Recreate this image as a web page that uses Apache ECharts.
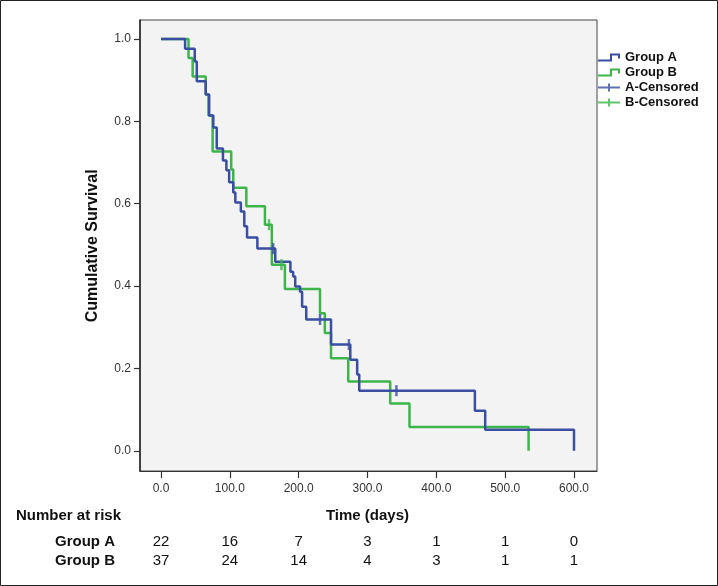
<!DOCTYPE html>
<html><head><meta charset="utf-8">
<script src="https://cdn.jsdelivr.net/npm/echarts@6/dist/echarts.min.js"></script>
<style>html,body{margin:0;padding:0;background:#fff}#c{width:718px;height:586px}</style>
</head><body><div id="c"></div>
<script>
// ---- data ----
const xTicks = [0, 100, 200, 300, 400, 500, 600];
const yTicks = [0, 0.2, 0.4, 0.6, 0.8, 1.0];

const groupATimes = [0,35,49,52,65,70,76,81,90,95,99,105,108,116,121,125,140,166,188,192,195,202,205,211,247,275,285,288,456,471,600];
const groupASurv  = [1,0.976,0.945,0.897,0.865,0.814,0.785,0.734,0.705,0.681,0.652,0.627,0.603,0.581,0.545,0.518,0.491,0.459,0.435,0.423,0.399,0.386,0.350,0.319,0.258,0.221,0.185,0.146,0.097,0.051,0];
const groupACensTimes = [163, 231, 273, 342];
const groupACensSurv  = [0.491, 0.319, 0.258, 0.146];

const groupBTimes = [0,40,46,65,69,75,102,105,124,151,161,180,231,238,247,272,333,361,534];
const groupBSurv  = [1,0.954,0.909,0.865,0.814,0.727,0.683,0.639,0.594,0.549,0.452,0.393,0.334,0.286,0.225,0.168,0.115,0.058,0];
const groupBCensTimes = [157, 175];
const groupBCensSurv  = [0.549, 0.452];

const seriesNames = ['Group A', 'Group B', 'A-Censored', 'B-Censored'];
const riskTimes = [0, 100, 200, 300, 400, 500, 600];
const riskGroups = ['Group A', 'Group B'];
const riskA = [22, 16, 7, 3, 1, 1, 0];
const riskB = [37, 24, 14, 4, 3, 1, 1];

// ---- chart ----
const BLUE = '#3a4ea3', GREEN = '#3db54a';
const zip = (a, b) => a.map((v, i) => [v, b[i]]);
const stepIcon = 'path://M0,6h12v-6h10v5h-2v-3h-6v6h-14z';
const plusIcon = 'path://M10,0h2v3h10v2h-10v3h-2v-3h-10v-2h10z';
const FONT = 'Arial, "Liberation Sans", sans-serif';

const chart = echarts.init(document.getElementById('c'), null, {renderer: 'canvas'});
chart.setOption({
  animation: false,
  backgroundColor: '#fff',
  grid: {left: 140, right: 121, top: 20, bottom: 115, show: true,
         backgroundColor: '#f3f3f3', borderColor: '#444', borderWidth: 1},
  xAxis: {
    type: 'value', min: -30.5, max: 633.4,
    splitLine: {show: false},
    axisLine: {show: true, onZero: false, lineStyle: {color: '#333', width: 1}},
    axisTick: {show: true, length: 7, lineStyle: {color: '#333', width: 1.2}, customValues: xTicks},
    axisLabel: {customValues: xTicks, margin: 12, fontSize: 12, color: '#333', fontFamily: FONT,
                formatter: v => v.toFixed(1)}
  },
  yAxis: {
    type: 'value', min: -0.049, max: 1.046,
    splitLine: {show: false},
    axisLine: {show: true, onZero: false, lineStyle: {color: '#222', width: 1.5}},
    axisTick: {show: true, length: 6, lineStyle: {color: '#333', width: 1.2}, customValues: yTicks},
    axisLabel: {customValues: yTicks, margin: 9, fontSize: 12, color: '#333', fontFamily: FONT,
                formatter: v => v.toFixed(1)}
  },
  legend: {
    orient: 'vertical', left: 598, top: 50, padding: 0, itemGap: 0,
    itemWidth: 22, itemHeight: 8,
    textStyle: {fontSize: 13, fontWeight: 'bold', color: '#111', fontFamily: FONT, lineHeight: 15},
    itemStyle: {borderWidth: 0},
    data: [
      {name: seriesNames[0], icon: stepIcon},
      {name: seriesNames[1], icon: stepIcon},
      {name: seriesNames[2], icon: plusIcon},
      {name: seriesNames[3], icon: plusIcon}
    ]
  },
  series: [
    {name: seriesNames[0], type: 'line', step: 'end', symbol: 'none', z: 3,
     color: BLUE, itemStyle: {color: BLUE}, lineStyle: {color: BLUE, width: 2.5},
     data: zip(groupATimes, groupASurv)},
    {name: seriesNames[1], type: 'line', step: 'end', symbol: 'none', z: 2,
     color: GREEN, itemStyle: {color: GREEN}, lineStyle: {color: GREEN, width: 2.5},
     data: zip(groupBTimes, groupBSurv)},
    {name: seriesNames[2], type: 'scatter', symbol: 'rect', symbolSize: [2.5, 11], z: 4,
     color: BLUE, itemStyle: {color: BLUE}, data: zip(groupACensTimes, groupACensSurv)},
    {name: seriesNames[3], type: 'scatter', symbol: 'rect', symbolSize: [2.5, 11], z: 4,
     color: GREEN, itemStyle: {color: GREEN}, data: zip(groupBCensTimes, groupBCensSurv)}
  ]
});

// ---- risk table & titles as text placed via the x scale ----
const px = t => chart.convertToPixel({xAxisIndex: 0}, t);
const py = v => chart.convertToPixel({yAxisIndex: 0}, v);
const g = [];
g.push({type: 'rect', shape: {x: 0.5, y: 0.5, width: 717, height: 585}, style: {fill: 'none', stroke: '#222', lineWidth: 1}, silent: true});
g.push({type: 'text', x: 93, y: (py(0) + py(1)) / 2 + 1, rotation: Math.PI / 2,
        style: {text: 'Cumulative Survival', font: 'bold 16px ' + FONT, fill: '#111', align: 'center', verticalAlign: 'middle'}});
g.push({type: 'text', x: px(300), y: 516,
        style: {text: 'Time (days)', font: 'bold 15px ' + FONT, fill: '#111', align: 'center', verticalAlign: 'middle'}});
g.push({type: 'text', x: 16, y: 516,
        style: {text: 'Number at risk', font: 'bold 15px ' + FONT, fill: '#111', align: 'left', verticalAlign: 'middle'}});
const rows = [riskA, riskB];
const rowY = [542, 561];
riskGroups.forEach((name, r) => {
  g.push({type: 'text', x: 115, y: rowY[r],
          style: {text: name, font: 'bold 15px ' + FONT, fill: '#111', align: 'right', verticalAlign: 'middle'}});
  rows[r].forEach((n, i) => {
    g.push({type: 'text', x: px(riskTimes[i]), y: rowY[r],
            style: {text: String(n), font: '15px ' + FONT, fill: '#111', align: 'center', verticalAlign: 'middle'}});
  });
});
chart.setOption({graphic: g});
</script>
</body></html>
